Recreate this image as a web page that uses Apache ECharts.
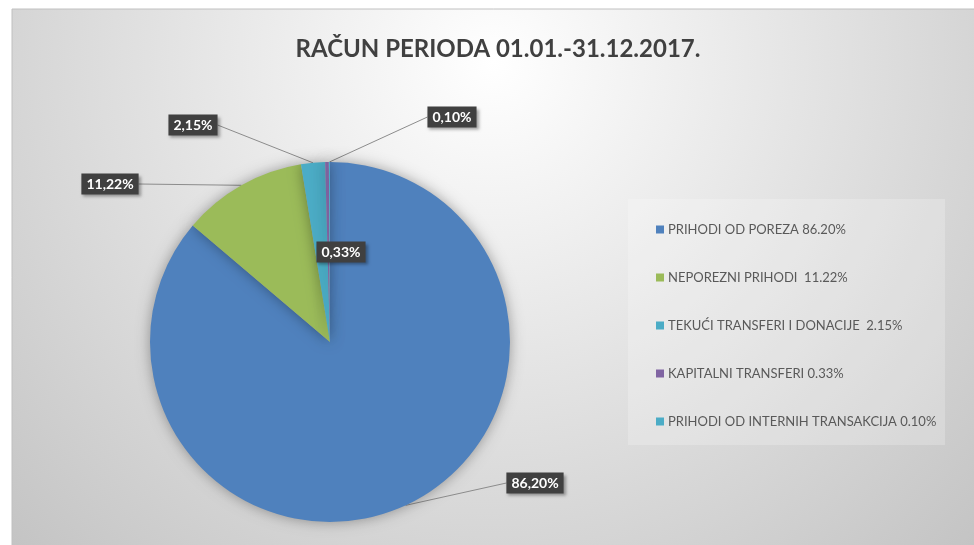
<!DOCTYPE html>
<html>
<head>
<meta charset="utf-8">
<title>Račun perioda</title>
<script src="https://cdn.jsdelivr.net/npm/echarts@6/dist/echarts.min.js"></script>
<style>
  html, body { margin: 0; padding: 0; background: #fff; overflow: hidden; }
  #chart { width: 974px; height: 545px; }
</style>
</head>
<body>
<div id="chart"></div>
<script>
// data
var categories = ['PRIHODI OD POREZA', 'NEPOREZNI PRIHODI', 'TEKUĆI TRANSFERI I DONACIJE', 'KAPITALNI TRANSFERI', 'PRIHODI OD INTERNIH TRANSAKCIJA']
var shares = [86.20, 11.22, 2.15, 0.33, 0.10]
var legendTexts = ['PRIHODI OD POREZA 86.20%', 'NEPOREZNI PRIHODI  11.22%', 'TEKUĆI TRANSFERI I DONACIJE  2.15%', 'KAPITALNI TRANSFERI 0.33%', 'PRIHODI OD INTERNIH TRANSAKCIJA 0.10%']

var colors = ['#4f81bd', '#9bbb59', '#4bacc6', '#8064a2', '#4bacc6']
// where each data label box sits (centre), like in the excel chart
var labelSpots = [[535, 483], [110, 184], [193, 125], [341, 252], [452, 117]]

var chart = echarts.init(document.getElementById('chart'))

var pieData = categories.map(function (name, i) {
  var item = { name: name, value: shares[i], itemStyle: { color: colors[i] } }
  if (i === 3) {
    item.label = { position: 'inside' }
    item.labelLine = { show: false }
  }
  return item
})

chart.setOption({
  backgroundColor: '#fff',
  animation: false,
  graphic: [
    {
      type: 'rect',
      z: -10,
      silent: true,
      shape: { x: 12, y: 9, width: 990, height: 560 },
      style: {
        fill: {
          type: 'radial', x: 493, y: 62, r: 680, global: true,
          colorStops: [
            { offset: 0, color: '#ffffff' },
            { offset: 1, color: '#c4c4c4' }
          ]
        },
        stroke: '#c0c0c0',
        lineWidth: 1
      }
    },
    {
      type: 'rect',
      z: -9,
      silent: true,
      shape: { x: 628, y: 199, width: 317, height: 246 },
      style: { fill: 'rgba(255,255,255,0.22)' }
    }
  ],
  title: {
    text: 'RAČUN PERIODA 01.01.-31.12.2017.',
    left: 493,
    textAlign: 'center',
    top: 32,
    textStyle: {
      fontFamily: 'Lato',
      fontWeight: 'bold',
      fontSize: 24,
      color: '#404040'
    }
  },
  legend: {
    orient: 'vertical',
    left: 651,
    top: 218,
    icon: 'rect',
    itemWidth: 8,
    itemHeight: 8,
    itemGap: 35,
    selectedMode: false,
    formatter: function (name) {
      return legendTexts[categories.indexOf(name)]
    },
    textStyle: {
      fontFamily: 'Lato',
      fontSize: 13,
      color: '#595959',
      padding: [0, 0, 0, -1]
    },
    data: categories
  },
  series: [{
    type: 'pie',
    center: [330, 342],
    radius: 180,
    startAngle: 90,
    clockwise: true,
    avoidLabelOverlap: false,
    data: pieData,
    itemStyle: {
      shadowBlur: 14,
      shadowColor: 'rgba(0,0,0,0.35)'
    },
    emphasis: { disabled: true },
    label: {
      show: true,
      position: 'outside',
      formatter: function (p) {
        return p.value.toFixed(2).replace('.', ',') + '%'
      },
      fontFamily: 'Lato',
      fontWeight: 'bold',
      fontSize: 14,
      color: '#fff',
      backgroundColor: '#404040',
      padding: [4, 5, 3, 5],
      shadowBlur: 3,
      shadowOffsetX: 2,
      shadowOffsetY: 2,
      shadowColor: 'rgba(0,0,0,0.35)'
    },
    labelLine: {
      show: true,
      length: 20,
      length2: 20,
      lineStyle: { color: '#8c8c8c', width: 1 }
    },
    labelLayout: function (p) {
      var spot = labelSpots[p.dataIndex]
      var out = { x: spot[0], y: spot[1], align: 'center', verticalAlign: 'middle' }
      if (p.labelLinePoints && p.dataIndex !== 3) {
        var start = p.labelLinePoints[0]
        var halfW = p.labelRect.width / 2
        var end = start[0] < spot[0] ? [spot[0] - halfW, spot[1]] : [spot[0] + halfW, spot[1]]
        out.labelLinePoints = [start, end, end]
      }
      return out
    }
  }]
})
</script>
</body>
</html>
